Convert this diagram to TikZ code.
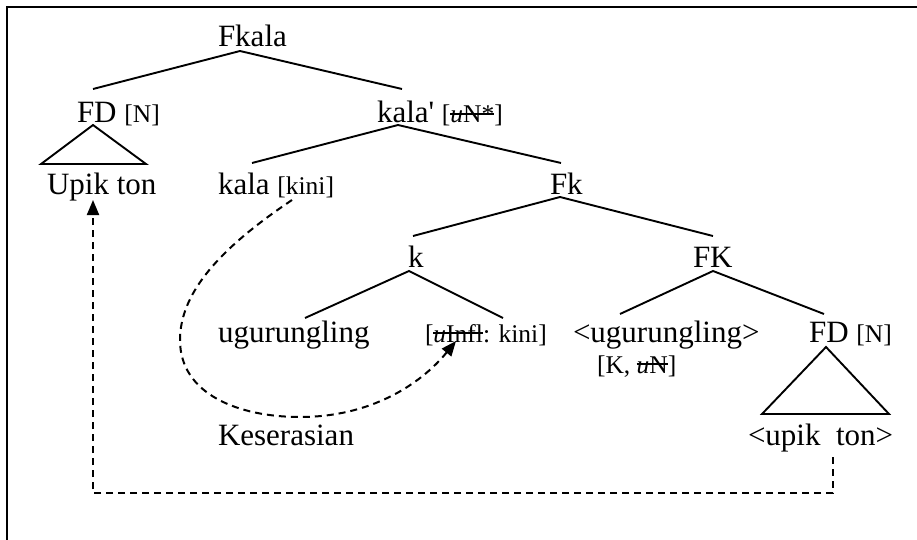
\documentclass[tikz,border=0pt]{standalone}
\usepackage{fontspec}
\setmainfont{Liberation Serif}
\newfontfamily\nomap{Liberation Serif}
\usetikzlibrary{arrows.meta}
\newcommand{\strk}[1]{\setbox0=\hbox{#1}\rlap{\rule[0.33em]{\wd0}{0.06em}}\box0}
\newcommand{\sm}[1]{{\fontsize{25.5}{30}\selectfont #1}}
\tikzset{
  lbl/.style={anchor=base west, inner sep=0pt, outer sep=0pt, font=\fontsize{31}{36}\selectfont},
  br/.style={line width=1.9pt},
  dsh/.style={line width=2pt, dash pattern=on 7pt off 5pt},
  tip/.style={-{Triangle[length=15pt,width=12pt]}}
}
\begin{document}
\begin{tikzpicture}[x=1pt,y=-1pt]
\useasboundingbox (0,0) rectangle (917,540);
% frame (only top and left visible)
\draw[line width=2pt] (7,545) -- (7,7) -- (925,7);
% labels
\node[lbl] (fkala) at (218,47) {Fkala};
\node[lbl] (fdl) at (77,123) {FD \sm{[N]}};
\node[lbl] (kalap) at (377,123) {kala{\nomap '} \sm{[\strk{\textit{u}N*}]}};
\node[lbl] (upik) at (47,194) {Upik ton};
\node[lbl] (kala) at (218,194) {kala \sm{[kini]}};
\node[lbl] (fk) at (550,194) {Fk};
\node[lbl] (k) at (408,267) {k};
\node[lbl] (fkk) at (693,267) {FK};
\node[lbl] (ugu) at (218,342) {ugurungling};
\node[lbl] (infl) at (425,342) {\sm{[\strk{\textit{u}Infl}: kini]}};
\node[lbl] (ugu2) at (573,342) {<ugurungling>};
\node[lbl] (kn) at (597,373) {\sm{[K, \strk{\textit{u}N}]}};
\node[lbl] (fdr) at (809,342) {FD \sm{[N]}};
\node[lbl] (upik2) at (748,445) {<upik\ \ ton>};
\node[lbl] (kes) at (218,445) {Keserasian};
% branch points
\coordinate (a0) at (240,51);
\coordinate (a0l) at (93,89);
\coordinate (a0r) at (402,89);
\coordinate (t1) at (93,125);
\coordinate (t1l) at (41,164);
\coordinate (t1r) at (146,164);
\coordinate (a1) at (398,125);
\coordinate (a1l) at (252,163);
\coordinate (a1r) at (561,163);
\coordinate (a2) at (560,197);
\coordinate (a2l) at (413,236);
\coordinate (a2r) at (713,236);
\coordinate (a3) at (409,271);
\coordinate (a3l) at (305,318);
\coordinate (a3r) at (503,318);
\coordinate (a4) at (713,271);
\coordinate (a4l) at (620,314);
\coordinate (a4r) at (824,314);
\coordinate (t2) at (826,347);
\coordinate (t2l) at (762,414);
\coordinate (t2r) at (889,414);
\draw[br] (a0l) -- (a0) -- (a0r);
\draw[br] (t1l) -- (t1) -- (t1r) -- cycle;
\draw[br] (a1l) -- (a1) -- (a1r);
\draw[br] (a2l) -- (a2) -- (a2r);
\draw[br] (a3l) -- (a3) -- (a3r);
\draw[br] (a4l) -- (a4) -- (a4r);
\draw[br] (t2l) -- (t2) -- (t2r) -- cycle;
% movement arrow
\coordinate (m1) at (833,457);
\coordinate (m2) at (833,493);
\coordinate (m3) at (93,493);
\coordinate (m4) at (93,200);
\draw[dsh,tip] (m1) -- (m2) -- (m3) -- (m4);
% agreement arrow
\coordinate (c0) at (292,200);
\coordinate (c1) at (180,340);
\coordinate (c2) at (300,417);
\coordinate (c3) at (456,341);
\draw[dsh,tip] (c0) .. controls (225,245) and (180,290) .. (c1)
  .. controls (180,395) and (240,417) .. (c2)
  .. controls (370,417) and (420,385) .. (c3);
\end{tikzpicture}
\end{document}
